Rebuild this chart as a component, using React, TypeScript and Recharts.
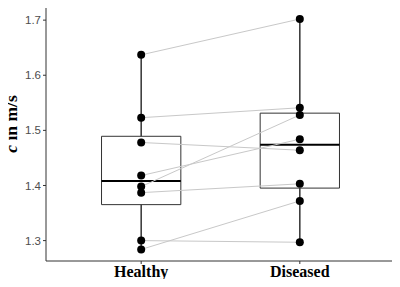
import React from "react";
import {
  ComposedChart,
  XAxis,
  YAxis,
  Line,
  Scatter,
  ReferenceArea,
  ReferenceLine,
} from "recharts";

const categories = ["Healthy", "Diseased"];
// paired measurements, same index = same subject
const healthy = [1.637, 1.523, 1.478, 1.418, 1.398, 1.387, 1.3, 1.284];
const diseased = [1.702, 1.541, 1.464, 1.484, 1.528, 1.403, 1.297, 1.372];
const yTicks = [1.3, 1.4, 1.5, 1.6, 1.7];

// ggplot-style quantile (type 7)
function quantile(values: number[], p: number): number {
  const s = [...values].sort((a, b) => a - b);
  const h = (s.length - 1) * p;
  const lo = Math.floor(h);
  const hi = Math.ceil(h);
  return s[lo] + (h - lo) * (s[hi] - s[lo]);
}

function boxStats(values: number[]) {
  const q1 = quantile(values, 0.25);
  const med = quantile(values, 0.5);
  const q3 = quantile(values, 0.75);
  const iqr = q3 - q1;
  const inside = values.filter((v) => v >= q1 - 1.5 * iqr && v <= q3 + 1.5 * iqr);
  return { q1, med, q3, lo: Math.min(...inside), hi: Math.max(...inside) };
}

const groups = [healthy, diseased];
const stats = groups.map(boxStats);
const points = groups.flatMap((vals, i) => vals.map((y) => ({ x: i + 1, y })));
const pairs = healthy.map((h, i) => [
  { x: 1, y: h },
  { x: 2, y: diseased[i] },
]);

const HALF = 0.25;

function YLabel() {
  return (
    <text
      x={16.5}
      y={124}
      transform="rotate(-90, 16.5, 124)"
      textAnchor="middle"
      fontFamily="'Liberation Serif', serif"
      fontWeight="bold"
      fontSize={17.5}
      fill="#000"
    >
      <tspan fontStyle="italic">c</tspan>
      <tspan> in m/s</tspan>
    </text>
  );
}

const Dot = (props: any) => (
  <circle cx={props.cx} cy={props.cy} r={4} fill="#000" />
);

export default function App() {
  return (
    <div style={{ margin: -8, width: 400, height: 287, background: "#fff" }}>
      <ComposedChart
        width={400}
        height={287}
        margin={{ top: 8, right: 5, left: 0, bottom: 0 }}
        style={{ overflow: "visible" }}
      >
        <XAxis
          type="number"
          dataKey="x"
          domain={[0.4, 2.6]}
          ticks={[1, 2]}
          tickFormatter={(v: number) => categories[v - 1]}
          allowDuplicatedCategory={false}
          height={26}
          tickSize={3}
          tickMargin={2}
          stroke="#333"
          tick={{
            fill: "#000",
            fontFamily: "'Liberation Serif', serif",
            fontWeight: "bold",
            fontSize: 16,
          }}
        />
        <YAxis
          type="number"
          dataKey="y"
          domain={[1.263, 1.722]}
          ticks={yTicks}
          tickFormatter={(v: number) => v.toFixed(1)}
          width={46}
          tickSize={3}
          tickMargin={2}
          stroke="#333"
          tick={{
            fill: "#4d4d4d",
            fontFamily: "'Liberation Sans', sans-serif",
            fontSize: 11.5,
          }}
          label={<YLabel />}
        />
        {stats.map((s, i) => (
          <ReferenceArea
            key={"box" + i}
            x1={i + 1 - HALF}
            x2={i + 1 + HALF}
            y1={s.q1}
            y2={s.q3}
            fill="#fff"
            fillOpacity={0}
            stroke="#333"
            strokeWidth={1}
          />
        ))}
        {stats.map((s, i) => (
          <ReferenceLine
            key={"wlo" + i}
            segment={[
              { x: i + 1, y: s.lo },
              { x: i + 1, y: s.q1 },
            ]}
            stroke="#333"
            strokeWidth={1.5}
          />
        ))}
        {stats.map((s, i) => (
          <ReferenceLine
            key={"whi" + i}
            segment={[
              { x: i + 1, y: s.q3 },
              { x: i + 1, y: s.hi },
            ]}
            stroke="#333"
            strokeWidth={1.5}
          />
        ))}
        {stats.map((s, i) => (
          <ReferenceLine
            key={"med" + i}
            segment={[
              { x: i + 1 - HALF, y: s.med },
              { x: i + 1 + HALF, y: s.med },
            ]}
            stroke="#000"
            strokeWidth={2}
          />
        ))}
        {pairs.map((d, i) => (
          <Line
            key={"pair" + i}
            data={d}
            dataKey="y"
            stroke="#c8c8c8"
            strokeWidth={1}
            dot={false}
            activeDot={false}
            isAnimationActive={false}
          />
        ))}
        <Scatter
          data={points}
          dataKey="y"
          shape={<Dot />}
          isAnimationActive={false}
        />
      </ComposedChart>
    </div>
  );
}
